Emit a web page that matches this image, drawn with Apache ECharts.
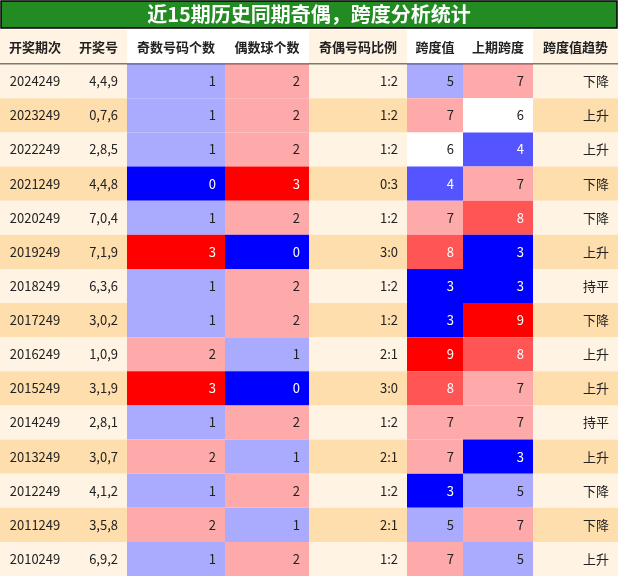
<!DOCTYPE html><html><head><meta charset="utf-8"><script src="https://cdn.jsdelivr.net/npm/echarts@6/dist/echarts.min.js"></script>
<style>html,body{margin:0;padding:0;background:#fff}#c{width:618px;height:576px}</style></head><body><div id="c"></div><script>
const title='近15期历史同期奇偶，跨度分析统计';
const headers=['开奖期次','开奖号','奇数号码个数','偶数球个数','奇偶号码比例','跨度值','上期跨度','跨度值趋势'];
const periods=['2024249','2023249','2022249','2021249','2020249','2019249','2018249','2017249','2016249','2015249','2014249','2013249','2012249','2011249','2010249'];
const numbers=['4,4,9','0,7,6','2,8,5','4,4,8','7,0,4','7,1,9','6,3,6','3,0,2','1,0,9','3,1,9','2,8,1','3,0,7','4,1,2','3,5,8','6,9,2'];
const oddCounts=[1,1,1,0,1,3,1,1,2,3,1,2,1,2,1];
const evenCounts=[2,2,2,3,2,0,2,2,1,0,2,1,2,1,2];
const ratios=['1:2','1:2','1:2','0:3','1:2','3:0','1:2','1:2','2:1','3:0','1:2','2:1','1:2','2:1','1:2'];
const spans=[5,7,6,4,7,8,3,3,9,8,7,7,3,5,7];
const prevSpans=[7,6,4,7,8,3,3,9,8,7,7,3,5,7,5];
const trends=['下降','上升','上升','下降','下降','上升','持平','下降','上升','上升','持平','上升','下降','下降','上升'];

const edges=[0,70,127,225,309,407,463,533,618];
const countColor={0:'#0000ff',1:'#aaaaff',2:'#ffaaaa',3:'#ff0000'};
const spanColor={3:'#0000ff',4:'#5555ff',5:'#aaaaff',6:'#ffffff',7:'#ffaaaa',8:'#ff5555',9:'#ff0000'};
const FONT='"Noto Sans CJK SC","Noto Sans",sans-serif';
const data=[];
headers.forEach((h,c)=>data.push([c,-1,h]));
periods.forEach((p,r)=>{
  const vals=[p,numbers[r],oddCounts[r],evenCounts[r],ratios[r],spans[r],prevSpans[r],trends[r]];
  vals.forEach((v,c)=>data.push([c,r,v]));
});
function cellStyle(c,r,v){
  let bg=(r===-1||r%2===0)?'#fff3e3':'#ffdead', fg='#222';
  if(c===2||c===3){bg=countColor[v]; if(v===0||v===3)fg='#fff';}
  if(c===5||c===6){bg=spanColor[v]; if(v===3||v===4||v===8||v===9)fg='#fff';}
  return {bg,fg};
}
const chart=echarts.init(document.getElementById('c'));
chart.setOption({
  animation:false,
  grid:{left:0,right:0,top:30,bottom:0},
  xAxis:{type:'value',min:0,max:618,show:false},
  yAxis:{type:'value',min:-1,max:15,inverse:true,show:false},
  graphic:[
    {type:'rect',shape:{x:1,y:1,width:616,height:27},style:{fill:'#228b22',stroke:'#000',lineWidth:1.5},z:10},
    {type:'text',left:'center',top:4,style:{text:title,fill:'#fff',font:'bold 20px '+FONT},z:11}
  ],
  series:[{
    type:'custom',data:data,
    renderItem:function(params,api){
      const c=api.value(0),r=api.value(1),v=data[params.dataIndex][2];
      const p0=api.coord([edges[c],r]),p1=api.coord([edges[c+1],r+1]);
      const st=cellStyle(c,r,v);
      const children=[{type:'rect',shape:{x:p0[0],y:p0[1],width:p1[0]-p0[0],height:p1[1]-p0[1]},style:{fill:st.bg}}];
      let tx,align;
      if(r===-1||c===0){tx=(p0[0]+p1[0])/2;align='center';}else{tx=p1[0]-9;align='right';}
      children.push({type:'text',style:{text:String(v),x:tx,y:(p0[1]+p1[1])/2,align:align,verticalAlign:'middle',fill:st.fg,font:(r===-1?'bold 13px ':'13px ')+FONT}});
      if(r===-1)children.push({type:'line',shape:{x1:p0[0],y1:p1[1],x2:p1[0],y2:p1[1]},style:{stroke:'#000',lineWidth:1.5}});
      return {type:'group',children:children};
    }
  }]
});
</script></body></html>
